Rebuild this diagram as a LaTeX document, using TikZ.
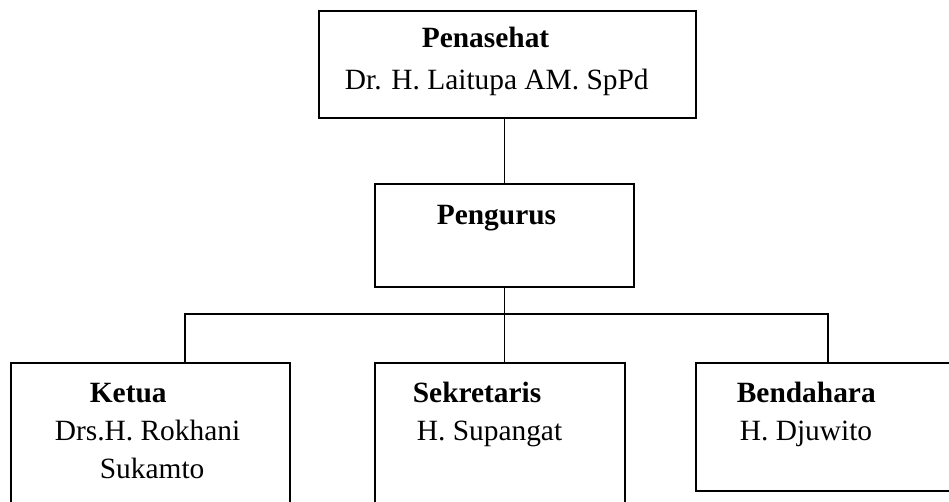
\documentclass[tikz,border=0pt]{standalone}
\usepackage{fontspec}
\setmainfont{Liberation Serif}
\begin{document}
\begin{tikzpicture}[x=1pt, y=-1pt, line width=1.7pt, font=\fontsize{29.4}{36}\selectfont,
	kotak/.style={draw, rectangle, inner sep=0pt},
	teks/.style={anchor=base west, inner sep=0pt}]
	\useasboundingbox (0,0) rectangle (949,502);
	\clip (0,0) rectangle (949,502);
	% kotak-kotak jabatan
	\node[kotak, minimum width=377pt, minimum height=107pt] (pen) at (507.5,64.5) {};
	\node[kotak, minimum width=259pt, minimum height=103pt] (peng) at (504.5,235.5) {};
	\node[kotak, minimum width=279pt, minimum height=167pt] (ketua) at (150.5,446.5) {};
	\node[kotak, minimum width=250pt, minimum height=167pt] (sekr) at (500,446.5) {};
	\node[kotak, minimum width=274pt, minimum height=128pt] (bend) at (833,427) {};
	% teks
	\node[teks] (tpen) at (421,48) {\textbf{Penasehat}};
	\node[teks] (npen) at (344,90) {Dr. H. Laitupa AM. SpPd};
	\node[teks] (tpeng) at (436,225) {\textbf{Pengurus}};
	\node[teks] (tketua) at (89,402) {\textbf{Ketua}};
	\node[teks] (nketua) at (54,440) {Drs.H. Rokhani};
	\node[teks] (nketuab) at (99,478) {Sukamto};
	\node[teks] (tsekr) at (412,402) {\textbf{Sekretaris}};
	\node[teks] (nsekr) at (416,440) {H. Supangat};
	\node[teks] (tbend) at (736,402) {\textbf{Bendahara}};
	\node[teks] (nbend) at (739,440) {H. Djuwito};
	% garis penghubung
	\coordinate (kiri) at (185,314); \coordinate (kanan) at (828,314);
	\draw (peng.north) -- (peng.north |- pen.south);
	\draw (peng.south) -- (peng.south |- sekr.north);
	\draw (kiri |- ketua.north) -- (kiri) -- (kanan) -- (kanan |- bend.north);
\end{tikzpicture}
\end{document}
